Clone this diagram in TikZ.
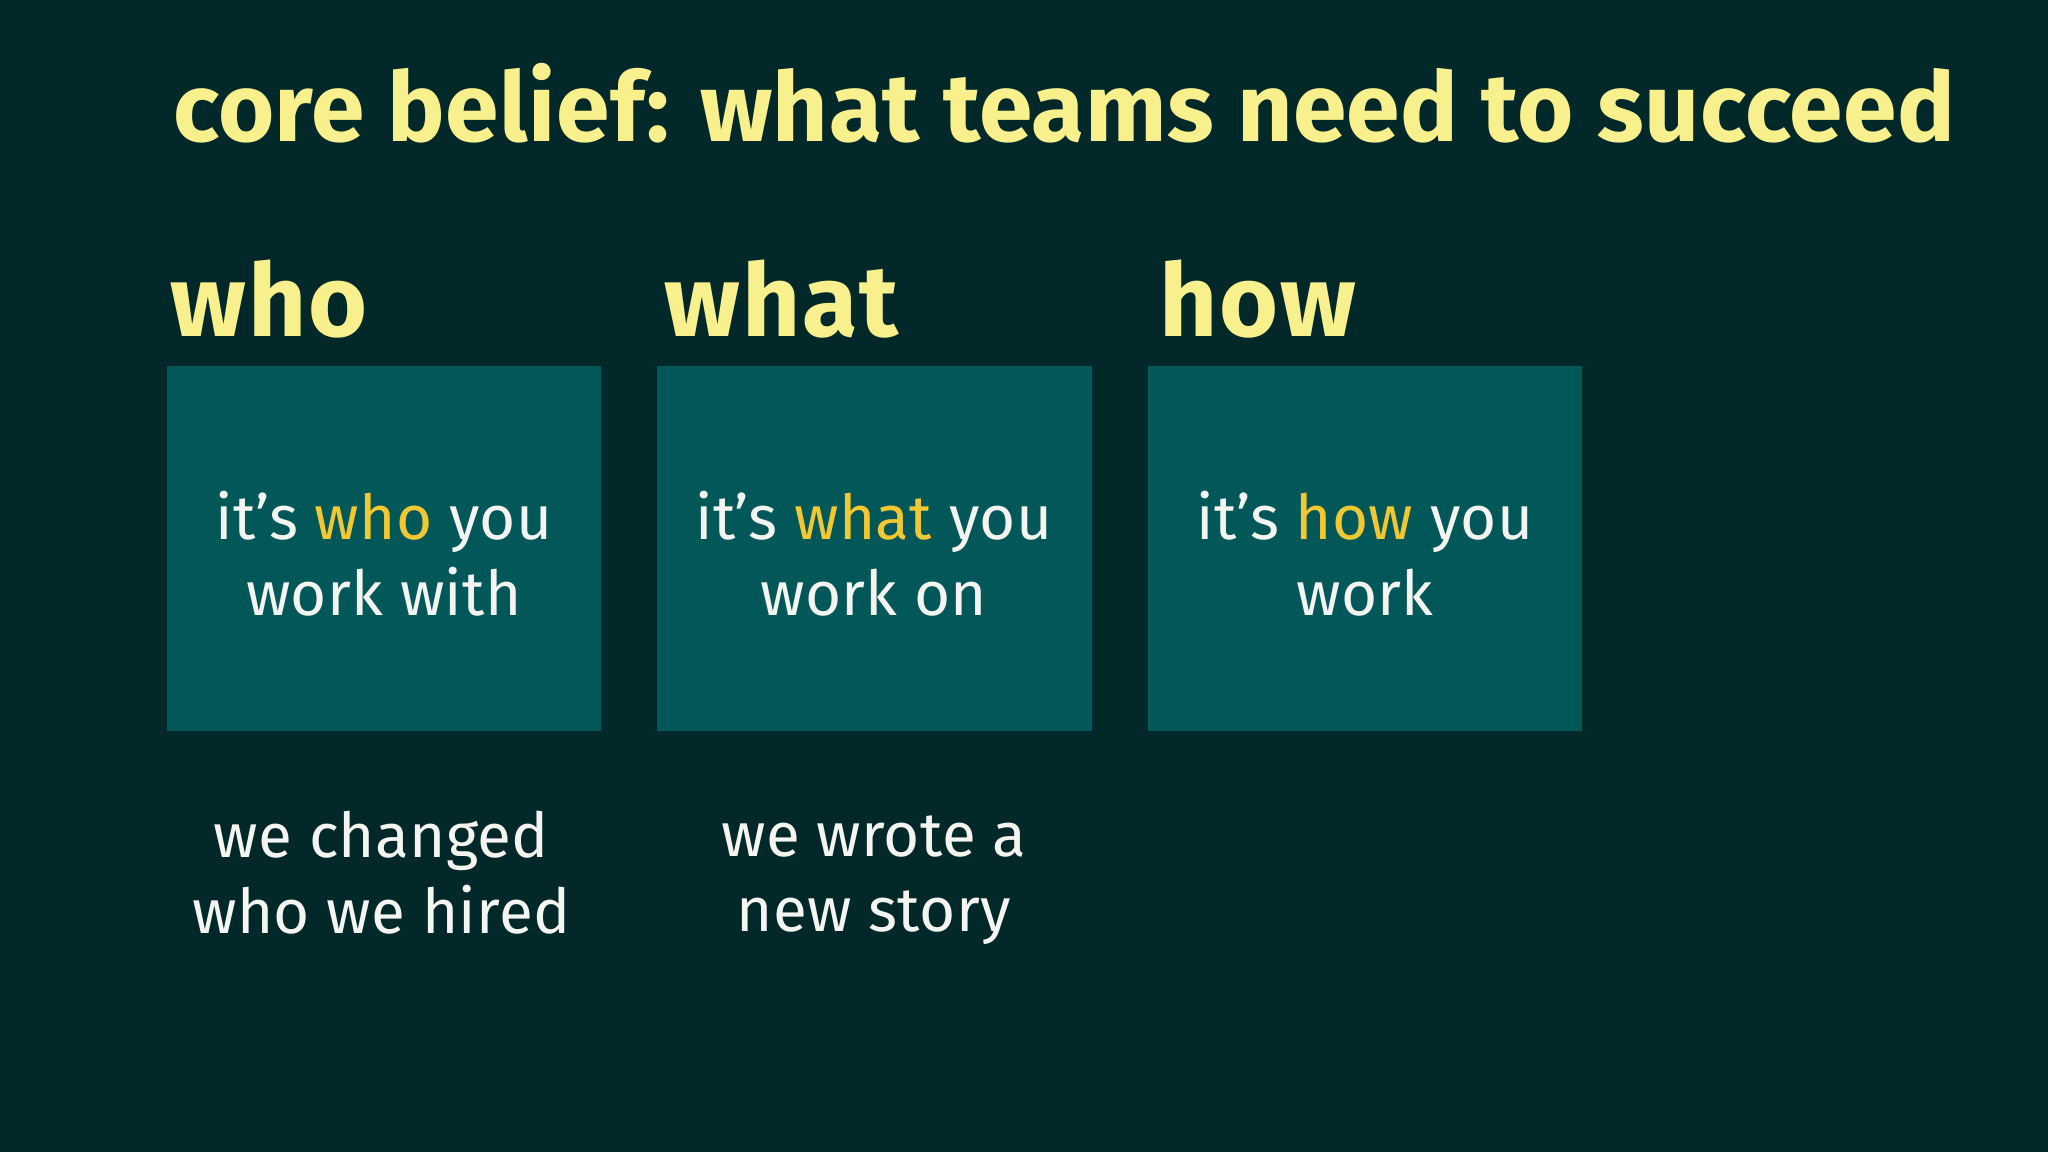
\documentclass[tikz,border=0pt]{standalone}
\usepackage{fontspec}
\setmainfont{Fira Sans}
\definecolor{bg}{HTML}{03282A}
\definecolor{boxc}{HTML}{025858}
\definecolor{ttl}{HTML}{F8F08C}
\definecolor{hl}{HTML}{F2C832}
\definecolor{wt}{HTML}{F4F4F0}
\tikzset{
  card/.style={fill=boxc,draw=none},
  head/.style={anchor=base west,text=ttl,font=\fontsize{22}{26}\selectfont\bfseries\addfontfeature{LetterSpace=2},inner sep=0},
  body/.style={text=wt,align=center,font=\fontsize{13.5}{16.5}\selectfont\addfontfeature{LetterSpace=0.5}},
}
\begin{document}
\begin{tikzpicture}[x=0.01cm,y=-0.01cm]
\fill[bg] (0,0) rectangle (1568,882);
\useasboundingbox (0,0) rectangle (1568,882);
\node[anchor=base west,text=ttl,inner sep=0,font=\fontsize{21}{24}\selectfont\bfseries\addfontfeature{LetterSpace=0.5}] (title) at (132,108) {core belief: what teams need to succeed};
\node[head] (h1) at (130,258) {who};
\node[head] (h2) at (508,258) {what};
\node[head] (h3) at (887,258) {how};
\fill[card] (128,280) rectangle (460,560);
\fill[card] (503,280) rectangle (836,560);
\fill[card] (879,280) rectangle (1211,560);
\node[body] (b1) at (294,424) {it’s \textcolor{hl}{who} you\\work with};
\node[body] (b2) at (669,424) {it’s \textcolor{hl}{what} you\\work on};
\node[body] (b3) at (1045,424) {it’s \textcolor{hl}{how} you\\work};
\node[body] (n1) at (292,668) {we changed\\who we hired};
\node[body] (n2) at (669,674) {we wrote a\\new story};
\end{tikzpicture}
\end{document}
